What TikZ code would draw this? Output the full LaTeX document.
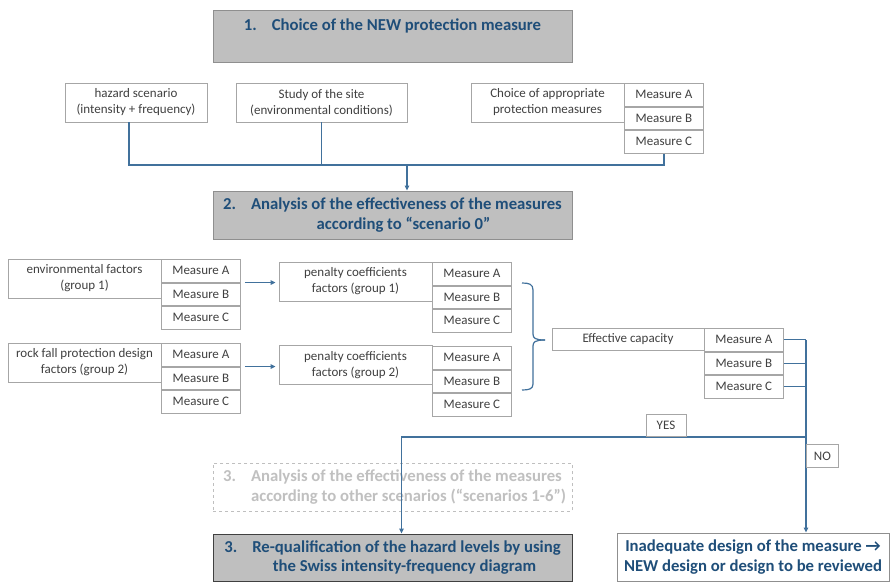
\documentclass[tikz,border=0pt]{standalone}
\usepackage{fontspec}
\setmainfont{Carlito}
\usetikzlibrary{arrows.meta,calc}
\definecolor{hdblue}{HTML}{1F4E79}
\definecolor{lnblue}{HTML}{41719C}
\definecolor{txgray}{HTML}{404040}
\definecolor{bdgray}{HTML}{A6A6A6}
\definecolor{hdfill}{HTML}{BFBFBF}
\definecolor{hdborder}{HTML}{8F8F8F}
\definecolor{lightgraytext}{HTML}{C0C0C0}
\begin{document}
\begin{tikzpicture}[x=1pt,y=-1pt,
  smallbox/.style={draw=bdgray, line width=0.8pt, fill=white, text=txgray,
    font=\fontsize{13}{16}\selectfont, align=center, inner sep=0pt},
  meas/.style={smallbox, minimum width=79pt, minimum height=22.7pt, anchor=north west},
  headbox/.style={draw=hdborder, line width=0.9pt, fill=hdfill, text=hdblue,
    font=\bfseries\fontsize{16.7}{19.5}\selectfont, align=center, inner sep=0pt,
    minimum width=359pt},
  dashbox/.style={draw=hdfill, dashed, line width=0.9pt, text=lightgraytext,
    font=\bfseries\fontsize{16.7}{19.5}\selectfont, align=center, inner sep=0pt,
    minimum width=359pt, minimum height=48pt},
  conn/.style={draw=lnblue, line width=1.3pt},
  arr/.style={conn, -{Triangle[length=5pt,width=4.5pt]}}]
\useasboundingbox (0,0) rectangle (890,582);
\fill[white] (0,0) rectangle (890,582);

% Step 1
\node[headbox, minimum height=52pt] (b1) at (392.5,36)
  {1.\hspace{15pt}Choice of the NEW protection measure\\[-3pt] \strut};

\node[smallbox, minimum width=142pt, minimum height=39pt] (haz) at (136,102.5)
  {hazard scenario\\(intensity + frequency)};
\node[smallbox, minimum width=171pt, minimum height=39pt] (site) at (321.5,102.5)
  {Study of the site\\(environmental conditions)};
\node[smallbox, minimum width=153pt, minimum height=39pt] (choice) at (547.5,102.5)
  {Choice of appropriate\\protection measures};
\node[meas] (cA) at (624,83) {Measure A};
\node[meas] (cB) at (cA.south west) {Measure B};
\node[meas] (cC) at (cB.south west) {Measure C};

% Step 2
\node[headbox, minimum height=48pt] (b2) at (392.5,215)
  {2.\hspace{15pt}Analysis of the effectiveness of the measures\\\hspace*{22pt}according to “scenario 0”};

\coordinate (jy) at (0,165);
\draw[conn] ([xshift=-7pt]haz.south) |- (cC.south |- jy) -- (cC.south);
\draw[conn] (site.south) -- (site.south |- jy);
\draw[arr] ([xshift=14.5pt]b2.north |- jy) -- ([xshift=14.5pt]b2.north);

% group boxes
\node[smallbox, minimum width=153pt, minimum height=39pt] (env) at (84.5,278.5)
  {environmental factors\\(group 1)};
\node[meas] (eA) at (161,259) {Measure A};
\node[meas] (eB) at (eA.south west) {Measure B};
\node[meas] (eC) at (eB.south west) {Measure C};

\node[smallbox, minimum width=153pt, minimum height=39pt] (rock) at (84.5,362.5)
  {rock fall protection design\\factors (group 2)};
\node[meas] (rA) at (161,343) {Measure A};
\node[meas] (rB) at (rA.south west) {Measure B};
\node[meas] (rC) at (rB.south west) {Measure C};

\node[smallbox, minimum width=153pt, minimum height=39pt] (pen1) at (355.5,281.5)
  {penalty coefficients\\factors (group 1)};
\node[meas] (pA) at (432,262) {Measure A};
\node[meas] (pB) at (pA.south west) {Measure B};
\node[meas] (pC) at (pB.south west) {Measure C};

\node[smallbox, minimum width=153pt, minimum height=39pt] (pen2) at (355.5,365)
  {penalty coefficients\\factors (group 2)};
\node[meas] (qA) at (432,346) {Measure A};
\node[meas] (qB) at (qA.south west) {Measure B};
\node[meas] (qC) at (qB.south west) {Measure C};

\draw[arr] ($(eA.south east)+(4,0)$) -- ($(eA.south east -| pen1.west)+(-3,0)$);
\draw[arr] ($(rA.south east)+(4,0)$) -- ($(rA.south east -| pen2.west)+(-3,0)$);

% brace
\draw[conn, line width=1.2pt] (522,283) .. controls (529,283) and (533,284) .. (533,290)
  -- (533,334) .. controls (533,338) and (535,340) .. (545,340);
\draw[conn, line width=1.2pt] (545,340) .. controls (535,340) and (533,342) .. (533,346)
  -- (533,384) .. controls (533,389) and (529,390) .. (522,390);

\node[smallbox, minimum width=152pt, minimum height=22.7pt] (eff) at (628,339.5)
  {Effective capacity};
\node[meas] (fA) at (704,328) {Measure A};
\node[meas] (fB) at (fA.south west) {Measure B};
\node[meas] (fC) at (fB.south west) {Measure C};

% Step 3 boxes
\node[dashbox] (b3d) at (392.5,487)
  {3.\hspace{15pt}Analysis of the effectiveness of the measures\\\hspace*{32pt}according to other scenarios (“scenarios 1-6”)};
\node[headbox, draw=txgray, minimum height=47pt] (b3) at (392.5,557.5)
  {3.\hspace{15pt}Re-qualification of the hazard levels by using\\\hspace*{24pt}the Swiss intensity-frequency diagram};
\node[draw=hdborder, line width=0.9pt, fill=white, text=hdblue,
  font=\bfseries\fontsize{16.7}{19.5}\selectfont, align=center, inner sep=0pt,
  minimum width=272pt, minimum height=48pt] (inad) at (753,557)
  {Inadequate design of the measure →\\NEW design or design to be reviewed};

% decision connectors
\coordinate (vx) at (806,0);
\coordinate (yy) at (0,437);
\draw[conn] (fA.east) -- (fA.east -| vx);
\draw[conn] (fB.east) -- (fB.east -| vx);
\draw[conn] (fC.east) -- (fC.east -| vx);
\draw[arr] (fA.east -| vx) -- (inad.north -| vx);
\draw[arr] (vx |- yy) -| ([xshift=9pt]b3.north);

\node[smallbox, minimum width=40pt, minimum height=22pt, anchor=south] (yes) at (666,437) {YES};
\node[smallbox, minimum width=32pt, minimum height=23pt, anchor=north west] (no) at (806,444) {NO};
\end{tikzpicture}
\end{document}
